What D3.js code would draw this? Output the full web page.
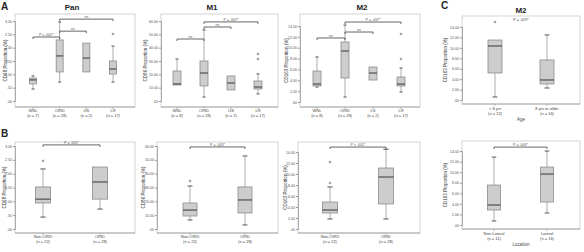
<!DOCTYPE html>
<html>
<head>
<meta charset="utf-8">
<script src="https://cdn.jsdelivr.net/npm/d3@7"></script>
<style>
  body { margin: 0; background: #fff; }
  text { font-family: "Liberation Sans", Arial, sans-serif; }
</style>
</head>
<body>
<script>
// --- Data (box stats = [low whisker, q1, median, q3, high whisker]) ---
const panCats = ["WNL|(n = 7)", "OIRD|(n = 28)", "IJS|(n = 2)", "LR|(n = 17)"];
const panBoxes = [[0.45, 0.64, 0.79, 0.86, 0.94], [0.71, 1.09, 1.69, 2.29, 2.96], [1.09, 1.09, 1.61, 2.17, 2.17], [0.71, 1.01, 1.20, 1.50, 2.06]];
const panOutliers = [[], [], [], [2.51]];
const panBrackets = [[0, 1, 2.40, "P = .002*"], [1, 2, 2.62, "ns"], [1, 3, 3.07, "ns"]];
const panTicks = [0, 0.5, 1, 1.5, 2, 2.5, 3];

const m1Cats = ["WNL|(n = 8)", "OIRD|(n = 28)", "IJS|(n = 2)", "LR|(n = 17)"];
const m1Boxes = [[12.0, 12.0, 12.8, 22.5, 31.5], [3.0, 11.3, 21.0, 30.0, 53.3], [8.3, 8.3, 13.5, 18.8, 18.8], [5.3, 9.0, 10.5, 15.0, 20.3]];
const m1Outliers = [[], [], [], [31.5, 35.3]];
const m1Brackets = [[0, 1, 46.5, "ns"], [1, 2, 55.5, "ns"], [1, 3, 59.3, "P = .007*"]];
const m1Ticks = [0, 10, 20, 30, 40, 50, 60];

const m2Cats = ["WNL|(n = 8)", "OIRD|(n = 28)", "LS|(n = 2)", "LR|(n = 17)"];
const m2Boxes = [[2.76, 2.95, 3.31, 5.71, 8.29], [0.92, 4.42, 9.39, 11.05, 14.18], [4.05, 4.05, 5.34, 6.45, 6.45], [1.84, 2.95, 3.31, 4.60, 6.26]];
const m2Outliers = [[], [], [], [7.92, 12.52]];
const m2Brackets = [[0, 1, 11.79, "ns"], [1, 2, 12.89, "ns"], [1, 3, 14.73, "P = .037*"]];
const m2Ticks = [0, 2, 4, 6, 8, 10, 12, 14];

const ageCats = ["< 8 yrs|(n = 12)", "8 yrs or older|(n = 16)"];
const ageBoxes = [[0.58, 5.18, 10.36, 11.50, 11.50], [2.30, 3.07, 3.84, 7.68, 12.48]];
const ageOutliers = [[14.97], []];
const ageTicks = [0, 2, 4, 6, 8, 10, 12, 14];

const b1Cats = ["Non-OIRD|(n = 22)", "OIRD|(n = 28)"];
const b1Boxes = [[0.43, 0.94, 1.08, 1.52, 2.17], [0.72, 1.08, 1.70, 2.24, 2.24]];
const b1Outliers = [[2.46], []];
const b1Brackets = [[0, 1, 3.04, "P = .005*"]];

const b2Cats = ["Non-OIRD|(n = 22)", "OIRD|(n = 28)"];
const b2Boxes = [[6.5, 9.4, 13.7, 18.8, 31.1], [2.9, 11.6, 21.0, 30.4, 52.8]];
const b2Outliers = [[34.7], []];
const b2Brackets = [[0, 1, 59.3, "P = .043*"]];

const b3Cats = ["Non-OIRD|(n = 22)", "OIRD|(n = 28)"];
const b3Boxes = [[1.82, 2.91, 3.45, 4.91, 7.64], [1.82, 4.55, 9.45, 11.09, 14.5]];
const b3Outliers = [[8.36, 12.18], []];
const b3Brackets = [[0, 1, 14.9, "P < .001*"]];

const locCats = ["Non-Lateral|(n = 11)", "Lateral|(n = 16)"];
const locBoxes = [[0.76, 2.84, 3.78, 7.56, 12.85], [2.27, 4.35, 9.64, 10.96, 13.99]];
const locOutliers = [[], []];
const locBrackets = [[0, 1, 14.74, "P = .009*"]];

// --- Panel layout ---
const panels = [
  {cats: panCats, boxes: panBoxes, out: panOutliers, br: panBrackets, ticks: panTicks, fmt: ".2f",
   l: 15, r: 135, t: 14, b: 107, tk: [101, 21], cx: [33, 113], bw: 7, ylab: "CD68 Proportion (%)", ylx: 7,
   title: "Pan", tx: 72, labY: 110},
  {cats: m1Cats, boxes: m1Boxes, out: m1Outliers, br: m1Brackets, ticks: m1Ticks, fmt: ".2f",
   l: 161, r: 278, t: 14, b: 107, tk: [101, 21], cx: [177, 258], bw: 8, ylab: "CD86 Proportion (%)", ylx: 147,
   title: "M1", tx: 212, labY: 110},
  {cats: m2Cats, boxes: m2Boxes, out: m2Outliers, br: m2Brackets, ticks: m2Ticks, fmt: ".2f",
   l: 300, r: 420, t: 14, b: 107, tk: [102, 26], cx: [317, 401], bw: 8, ylab: "CD163 Proportion (%)", ylx: 288,
   title: "M2", tx: 362, labY: 110},
  {cats: ageCats, boxes: ageBoxes, out: ageOutliers, br: [], ticks: ageTicks, fmt: ".2f",
   l: 462, r: 580, t: 16, b: 104, tk: [100, 27], cx: [495, 547], bw: 14, ylab: "CD163 Proportion (%)", ylx: 447,
   title: "M2", tx: 521, ty: 13, labY: 108, xtitle: "Age", ptext: "P = .029*"},
  {cats: b1Cats, boxes: b1Boxes, out: b1Outliers, br: b1Brackets, ticks: panTicks, fmt: ".2f",
   l: 15, r: 135, t: 142, b: 233, tk: [229, 146], cx: [43, 100], bw: 15, ylab: "CD68 Proportion (%)", ylx: 6,
   labY: 236},
  {cats: b2Cats, boxes: b2Boxes, out: b2Outliers, br: b2Brackets, ticks: m1Ticks, fmt: ".2f",
   l: 157, r: 278, t: 142, b: 233, tk: [229, 146], cx: [190, 245], bw: 14, ylab: "CD86 Proportion (%)", ylx: 145,
   labY: 236},
  {cats: b3Cats, boxes: b3Boxes, out: b3Outliers, br: b3Brackets, ticks: m2Ticks, fmt: ".2f",
   l: 298, r: 420, t: 142, b: 233, tk: [229, 152], cx: [330, 386], bw: 15, ylab: "CD163 Proportion (%)", ylx: 287,
   labY: 236},
  {cats: locCats, boxes: locBoxes, out: locOutliers, br: locBrackets, ticks: ageTicks, fmt: ".2f",
   l: 462, r: 580, t: 141, b: 229, tk: [225, 151], cx: [494, 547], bw: 13, ylab: "CD163 Proportion (%)", ylx: 447,
   labY: 233, xtitle: "Location"}
];

const svg = d3.select("body").append("svg")
  .attr("width", 584).attr("height", 252);

// panel letters
[["A", 1, 10], ["B", 1, 137], ["C", 441, 9]].forEach(([s, x, y]) => {
  svg.append("text").attr("x", x).attr("y", y).text(s)
    .attr("font-size", 10).attr("font-weight", "bold").attr("fill", "#222");
});

panels.forEach(p => {
  const g = svg.append("g");
  const y = d3.scaleLinear().domain([p.ticks[0], p.ticks[p.ticks.length - 1]]).range(p.tk);
  const x = d3.scalePoint().domain(d3.range(p.cats.length)).range(p.cx);

  // frame
  g.append("rect").attr("x", p.l).attr("y", p.t)
    .attr("width", p.r - p.l).attr("height", p.b - p.t)
    .attr("fill", "none").attr("stroke", "#c8c8c8").attr("stroke-width", 0.8);

  // y axis
  const ya = g.append("g").attr("transform", `translate(${p.l},0)`)
    .call(d3.axisLeft(y).tickValues(p.ticks).tickSize(2)
      .tickFormat(d => d3.format(p.fmt)(d).replace(/^0\./, ".")));
  ya.select(".domain").attr("stroke", "#999").attr("stroke-width", 0.8);
  ya.selectAll(".tick line").attr("stroke", "#999");
  ya.selectAll(".tick text").attr("font-size", 3.6).attr("fill", "#555").attr("x", -3);

  // x axis line + ticks
  g.append("line").attr("x1", p.l).attr("x2", p.r).attr("y1", p.b).attr("y2", p.b)
    .attr("stroke", "#999").attr("stroke-width", 0.8);
  g.selectAll(".xt").data(p.cats).join("line")
    .attr("x1", (d, i) => x(i)).attr("x2", (d, i) => x(i))
    .attr("y1", p.b).attr("y2", p.b + 2).attr("stroke", "#999").attr("stroke-width", 0.6);

  // category labels (two lines)
  p.cats.forEach((c, i) => {
    const parts = c.split("|");
    parts.forEach((s, k) => {
      g.append("text").attr("x", x(i)).attr("y", p.labY + 2 + k * 5).text(s)
        .attr("text-anchor", "middle").attr("font-size", 4).attr("fill", "#444");
    });
  });

  if (p.xtitle) {
    g.append("text").attr("x", (p.l + p.r) / 2).attr("y", p.labY + 13).text(p.xtitle)
      .attr("text-anchor", "middle").attr("font-size", 4.5).attr("fill", "#444");
  }

  // y title
  g.append("text").attr("transform", `translate(${p.ylx},${(p.t + p.b) / 2}) rotate(-90)`)
    .text(p.ylab).attr("text-anchor", "middle").attr("font-size", 4.5).attr("fill", "#333");

  if (p.title) {
    g.append("text").attr("x", p.tx).attr("y", p.ty || 10).text(p.title)
      .attr("text-anchor", "middle").attr("font-size", 8).attr("font-weight", "bold").attr("fill", "#222");
  }
  if (p.ptext) {
    g.append("text").attr("x", (p.l + p.r) / 2).attr("y", p.t + 5).text(p.ptext)
      .attr("text-anchor", "middle").attr("font-size", 3.8).attr("fill", "#444");
  }

  // boxes
  const cap = Math.max(3, p.bw * 0.35);
  p.boxes.forEach((s, i) => {
    const cx = x(i);
    const [lo, q1, md, q3, hi] = s;
    g.append("line").attr("x1", cx).attr("x2", cx).attr("y1", y(hi)).attr("y2", y(q3))
      .attr("stroke", "#8a8a8a").attr("stroke-width", 0.7);
    g.append("line").attr("x1", cx).attr("x2", cx).attr("y1", y(q1)).attr("y2", y(lo))
      .attr("stroke", "#8a8a8a").attr("stroke-width", 0.7);
    if (hi > q3) g.append("line").attr("x1", cx - cap / 2).attr("x2", cx + cap / 2)
      .attr("y1", y(hi)).attr("y2", y(hi)).attr("stroke", "#444").attr("stroke-width", 0.9);
    if (lo < q1) g.append("line").attr("x1", cx - cap / 2).attr("x2", cx + cap / 2)
      .attr("y1", y(lo)).attr("y2", y(lo)).attr("stroke", "#444").attr("stroke-width", 0.9);
    g.append("rect").attr("x", cx - p.bw / 2).attr("y", y(q3))
      .attr("width", p.bw).attr("height", y(q1) - y(q3))
      .attr("fill", "#cdcdcd").attr("stroke", "#8c8c8c").attr("stroke-width", 0.8);
    g.append("line").attr("x1", cx - p.bw / 2).attr("x2", cx + p.bw / 2)
      .attr("y1", y(md)).attr("y2", y(md)).attr("stroke", "#444").attr("stroke-width", 1.1);
    p.out[i].forEach(v => {
      g.append("circle").attr("cx", cx).attr("cy", y(v)).attr("r", 0.9)
        .attr("fill", "none").attr("stroke", "#555").attr("stroke-width", 0.6);
    });
  });

  // significance brackets
  p.br.forEach(([a, b, v, lab]) => {
    const yy = y(v);
    g.append("path")
      .attr("d", `M${x(a)},${yy + 2}V${yy}H${x(b)}V${yy + 2}`)
      .attr("fill", "none").attr("stroke", "#555").attr("stroke-width", 0.9);
    g.append("text").attr("x", (x(a) + x(b)) / 2).attr("y", yy - 1).text(lab)
      .attr("text-anchor", "middle").attr("font-size", 3.6).attr("fill", "#555");
  });
});
</script>
</body>
</html>
